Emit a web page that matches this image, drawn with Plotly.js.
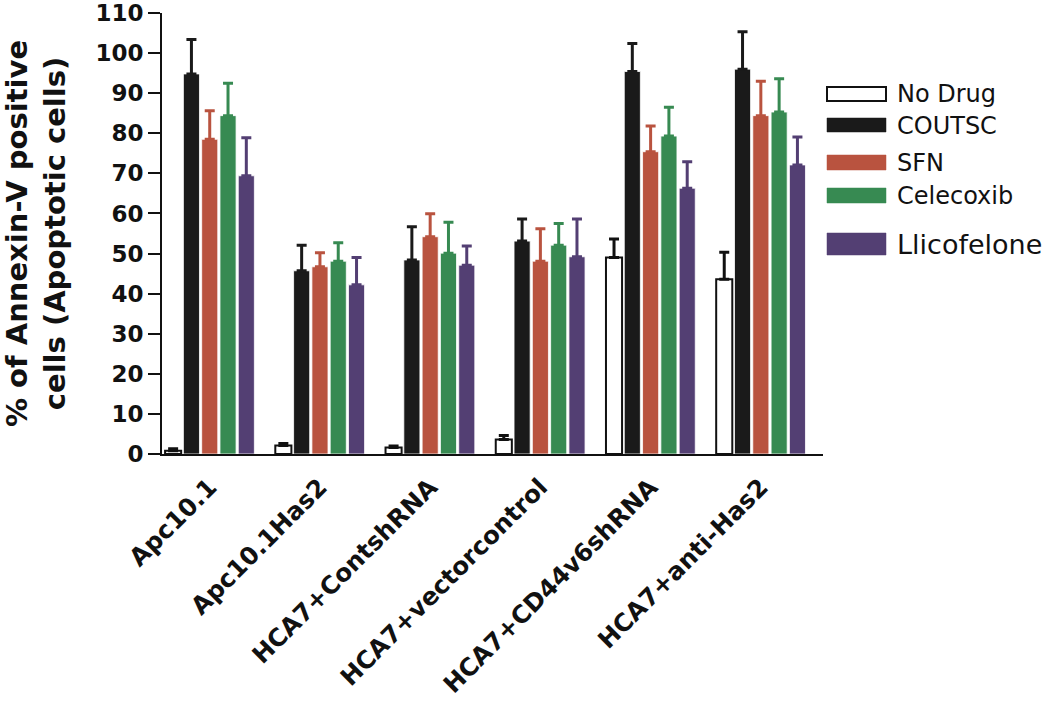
<!DOCTYPE html>
<html>
<head>
<meta charset="utf-8">
<script src="https://cdn.plot.ly/plotly-3.0.1.min.js"></script>
<style>html,body{margin:0;padding:0;background:#fff;}#chart{width:1050px;height:713px;}</style>
</head>
<body>
<div id="chart"></div>
<script>
// ---- data ----
var categories = ["Apc10.1", "Apc10.1Has2", "HCA7+ContshRNA", "HCA7+vectorcontrol", "HCA7+CD44v6shRNA", "HCA7+anti-Has2"];
var seriesNames = ["No Drug", "COUTSC", "SFN", "Celecoxib", "Llicofelone"];
var noDrug      = [0.8, 2.1, 1.6, 3.6, 49.0, 43.6];
var noDrugErr   = [0.5, 0.5, 0.4, 1.0, 4.6, 6.7];
var coutsc      = [94.8, 45.7, 48.4, 53.1, 95.4, 96.0];
var coutscErr   = [8.6, 6.4, 8.3, 5.5, 7.0, 9.3];
var sfn         = [78.5, 46.7, 54.2, 48.1, 75.4, 84.4];
var sfnErr      = [7.1, 3.5, 5.7, 8.1, 6.4, 8.6];
var celecoxib   = [84.4, 48.1, 50.1, 52.1, 79.3, 85.3];
var celecoxibErr= [8.1, 4.6, 7.7, 5.4, 7.2, 8.3];
var llicofelone = [69.4, 42.2, 47.1, 49.2, 66.3, 72.1];
var llicofeloneErr = [9.5, 6.8, 4.8, 9.4, 6.6, 7.0];
var yTickVals = [0,10,20,30,40,50,60,70,80,90,100,110];

// ---- styles ----
var values = [noDrug, coutsc, sfn, celecoxib, llicofelone];
var errors = [noDrugErr, coutscErr, sfnErr, celecoxibErr, llicofeloneErr];
var fills  = ["#ffffff", "#1a1a1a", "#b9533f", "#378a52", "#533f73"];
var lines  = ["#111111", "#ffffff", "#ffffff", "#ffffff", "#ffffff"];
var lineW  = [2, 0.8, 0.8, 0.8, 0.8];
var errCol = ["#111111", "#1a1a1a", "#b9533f", "#378a52", "#533f73"];

var zeros = categories.map(function(){return 0;});
var traces = values.map(function(v, i){
  return {
    type: "bar", name: seriesNames[i], x: categories, y: v,
    marker: {color: fills[i], line: {color: lines[i], width: lineW[i]}},
    error_y: {type: "data", array: errors[i], arrayminus: zeros, symmetric: false,
              visible: true, color: errCol[i], thickness: 3, width: 5},
    showlegend: false, hoverinfo: "x+y+name"
  };
});

// plot area in pixels
var L = 162, R = 823, T = 13, B = 454, W = 1050, H = 713;
function px(x){ return (x - L) / (R - L); }
function py(y){ return (B - y) / (B - T); }

// custom legend (wide swatches)
var legendRows = [
  {y0: 87,  y1: 101, ty: 94,  size: 24},
  {y0: 118, y1: 132, ty: 126, size: 24},
  {y0: 155, y1: 170, ty: 163, size: 24},
  {y0: 188, y1: 203, ty: 196, size: 24},
  {y0: 233, y1: 255, ty: 244, size: 27}
];
var shapes = [], annotations = [];
legendRows.forEach(function(r, i){
  shapes.push({type: "rect", xref: "paper", yref: "paper",
    x0: px(827), x1: px(886), y0: py(r.y1), y1: py(r.y0),
    fillcolor: fills[i], line: {color: i === 0 ? "#111111" : fills[i], width: i === 0 ? 2 : 0.5}});
  annotations.push({xref: "paper", yref: "paper", x: px(895), y: py(r.ty),
    xanchor: "left", yanchor: "middle", showarrow: false, text: seriesNames[i],
    font: {family: "DejaVu Sans", size: r.size, color: "#111111"}});
});

var layout = {
  width: W, height: H,
  margin: {l: L, r: W - R, t: T, b: H - B, pad: 0},
  paper_bgcolor: "#ffffff", plot_bgcolor: "#ffffff",
  barmode: "group", bargap: 0.17, bargroupgap: 0.12,
  showlegend: false,
  xaxis: {
    type: "category", range: [-0.433, 5.564],
    showline: true, linecolor: "#111111", linewidth: 2,
    ticks: "", showgrid: false, zeroline: false,
    tickangle: -45, ticklabelstandoff: 7,
    tickfont: {family: "DejaVu Sans", size: 24.5, color: "#111111", weight: "bold"}
  },
  yaxis: {
    range: [0, 110], tickvals: yTickVals,
    showline: true, linecolor: "#111111", linewidth: 2,
    ticks: "outside", ticklen: 12, tickwidth: 2, tickcolor: "#111111",
    showgrid: false, zeroline: false,
    tickfont: {family: "DejaVu Sans", size: 23, color: "#111111", weight: "bold"},
    title: {text: "% of Annexin-V positive<br>cells (Apoptotic cells)", standoff: 27,
            font: {family: "DejaVu Sans", size: 29, color: "#111111", weight: "bold"}}
  },
  shapes: shapes,
  annotations: annotations
};

Plotly.newPlot("chart", traces, layout, {displayModeBar: false, staticPlot: true});
</script>
</body>
</html>
